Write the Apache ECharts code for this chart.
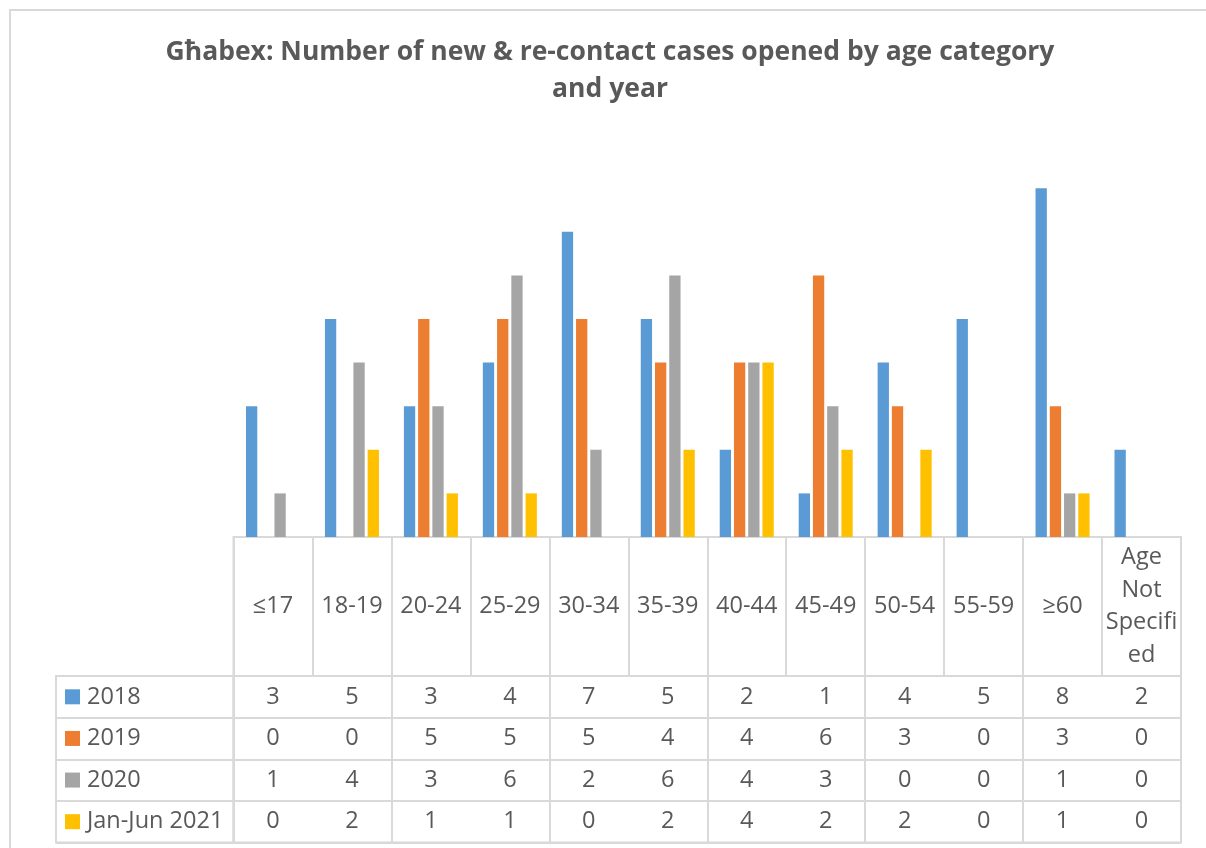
<!DOCTYPE html>
<html>
<head>
<meta charset="utf-8">
<script src="https://cdn.jsdelivr.net/npm/echarts@6/dist/echarts.min.js"></script>
<style>
  html, body { margin: 0; padding: 0; background: #fff; }
  #chart { width: 1206px; height: 848px; }
</style>
</head>
<body>
<div id="chart"></div>
<script>
// data
const categories = ['≤17', '18-19', '20-24', '25-29', '30-34', '35-39', '40-44', '45-49', '50-54', '55-59', '≥60', 'Age Not Specified'];
const headerLabels = ['≤17', '18-19', '20-24', '25-29', '30-34', '35-39', '40-44', '45-49', '50-54', '55-59', '≥60', 'Age\nNot\nSpecifi\ned'];
const seriesNames = ['2018', '2019', '2020', 'Jan-Jun 2021'];
const values2018 = [3, 5, 3, 4, 7, 5, 2, 1, 4, 5, 8, 2];
const values2019 = [0, 0, 5, 5, 5, 4, 4, 6, 3, 0, 3, 0];
const values2020 = [1, 4, 3, 6, 2, 6, 4, 3, 0, 0, 1, 0];
const valuesJanJun2021 = [0, 2, 1, 1, 0, 2, 4, 2, 2, 0, 1, 0];
const allValues = [values2018, values2019, values2020, valuesJanJun2021];

const colors = ['#5B9BD5', '#ED7D31', '#A5A5A5', '#FFC000'];
const textColor = '#595959';
const lineColor = '#D9D9D9';
const font = '"Open Sans", "Liberation Sans", sans-serif';
const cellFontSize = 23.5;

// layout of plot + table
const tableLeft = 233.5;
const tableRight = 25;
const baseline = 537;
const headerH = 139;
const rowsTop = baseline + headerH;
const rowsH = 166.5;

const chart = echarts.init(document.getElementById('chart'));

// cell values for the table
const cellData = [];
allValues.forEach(function (vals, i) {
  vals.forEach(function (v, j) { cellData.push([j, i, v]); });
});

const legendRich = { t: { padding: [0, 0, 0, 7], fontSize: cellFontSize, fontFamily: font, color: textColor } };
colors.forEach(function (c, i) {
  legendRich['s' + i] = { width: 15, height: 15, backgroundColor: c };
});

const splitStyle = { show: true, lineStyle: { color: lineColor, width: 2 } };
const hiddenAxis = { axisLine: { show: false }, axisTick: { show: false }, axisLabel: { show: false }, splitLine: { show: false } };

const option = {
  backgroundColor: '#fff',
  animation: false,
  color: colors,
  title: {
    text: 'Għabex: Number of new & re-contact cases opened by age category\nand year',
    left: 610,
    top: 34,
    textAlign: 'center',
    padding: 0,
    textStyle: { fontFamily: font, fontWeight: 'bold', fontSize: 26.5, color: textColor, lineHeight: 37 }
  },
  graphic: [{
    type: 'rect',
    shape: { x: 10, y: 10, width: 1400, height: 1000 },
    style: { fill: 'none', stroke: lineColor, lineWidth: 2 },
    silent: true
  }],
  grid: [
    // bars
    { left: tableLeft, right: tableRight, top: baseline - 9 * 43.6, height: 9 * 43.6 },
    // table header row
    { left: tableLeft, right: tableRight, top: baseline, height: headerH, show: true, borderColor: lineColor, borderWidth: 2 },
    // table value rows
    { left: tableLeft, right: tableRight, top: rowsTop, height: rowsH, show: true, borderColor: lineColor, borderWidth: 2 },
    // legend column
    { left: 56, width: tableLeft - 56, top: rowsTop, height: rowsH, show: true, borderColor: lineColor, borderWidth: 2 }
  ],
  xAxis: [
    Object.assign({ type: 'category', gridIndex: 0, data: categories }, hiddenAxis),
    {
      type: 'category', gridIndex: 1, data: headerLabels, position: 'bottom',
      axisLine: { show: false }, axisTick: { show: false },
      splitLine: splitStyle,
      axisLabel: {
        interval: 0, inside: true, margin: headerH / 2, verticalAlign: 'middle',
        fontSize: cellFontSize, lineHeight: 32.5, fontFamily: font, color: textColor
      }
    },
    Object.assign({ type: 'category', gridIndex: 2, data: categories }, hiddenAxis, { splitLine: splitStyle }),
    Object.assign({ type: 'category', gridIndex: 3, data: [''] }, hiddenAxis)
  ],
  yAxis: [
    Object.assign({ type: 'value', gridIndex: 0, min: 0, max: 9, interval: 1 }, hiddenAxis),
    Object.assign({ type: 'value', gridIndex: 1 }, hiddenAxis),
    Object.assign({ type: 'category', gridIndex: 2, data: seriesNames, inverse: true }, hiddenAxis, { splitLine: splitStyle }),
    {
      type: 'category', gridIndex: 3, data: seriesNames, inverse: true,
      axisLine: { show: false }, axisTick: { show: false },
      splitLine: splitStyle,
      axisLabel: {
        inside: true, margin: 9, align: 'left', interval: 0,
        formatter: function (v, i) { return '{s' + i + '|}{t|' + v + '}'; },
        rich: legendRich
      }
    }
  ],
  series: allValues.map(function (vals, i) {
    return {
      name: seriesNames[i], type: 'bar', xAxisIndex: 0, yAxisIndex: 0,
      data: vals, barWidth: 11.3, barGap: '26%',
      itemStyle: { color: colors[i] }
    };
  }).concat([{
    type: 'custom', xAxisIndex: 2, yAxisIndex: 2,
    data: cellData,
    encode: { x: 0, y: 1 },
    renderItem: function (params, api) {
      const p = api.coord([api.value(0), api.value(1)]);
      return {
        type: 'text', x: p[0], y: p[1],
        style: {
          text: String(api.value(2)), fill: textColor,
          fontSize: cellFontSize, fontFamily: font, align: 'center', verticalAlign: 'middle'
        }
      };
    }
  }])
};

chart.setOption(option);
</script>
</body>
</html>
